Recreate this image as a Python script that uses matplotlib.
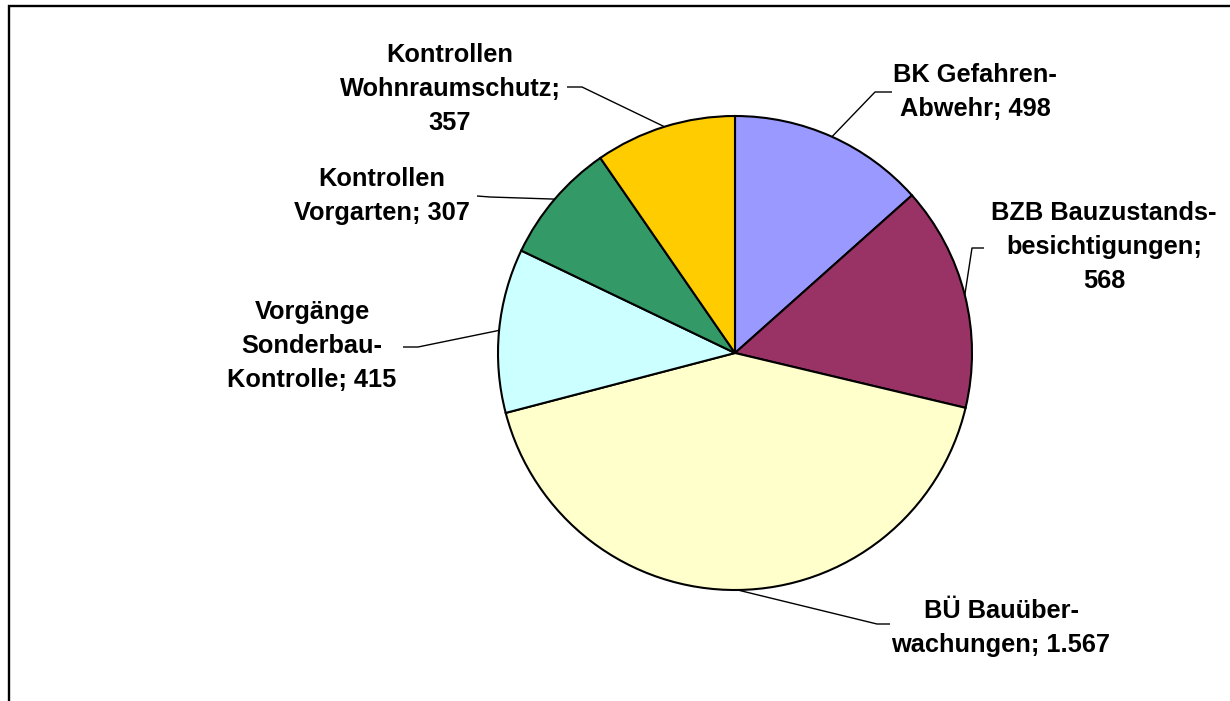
import numpy as np
import matplotlib
matplotlib.use("Agg")
import matplotlib.pyplot as plt

# data (clockwise from 12 o'clock)
labels = ["BK Gefahren-\nAbwehr; 498",
          "BZB Bauzustands-\nbesichtigungen;\n568",
          "BÜ Bauüber-\nwachungen; 1.567",
          "Vorgänge\nSonderbau-\nKontrolle; 415",
          "Kontrollen\nVorgarten; 307",
          "Kontrollen\nWohnraumschutz;\n357"]
values = [498, 568, 1567, 415, 307, 357]
colors = ["#9999FF", "#993366", "#FFFFCC", "#CCFFFF", "#339966", "#FFCC00"]

# layout in pixels (from top-left of the picture)
W, H = 1230, 701
center = (735, 353)
radius = 237
text_pos = [(975, 92), (1104, 247), (1001, 628), (312, 346), (382, 196), (450, 89)]
elbow = [(875, 92), (972, 248), (877, 624), (418, 347), (490, 197), (582, 87)]
line_end = [(892, 92), (984, 248), (890, 624), (403, 347), (477, 196), (567, 87)]

plt.rcParams['font.family'] = ['Liberation Sans', 'DejaVu Sans']

fig = plt.figure(figsize=(W / 100, H / 100), dpi=100)
ax = fig.add_axes([0, 0, 1, 1])

wedges, _ = ax.pie(values, colors=colors, startangle=90, counterclock=False,
                   center=(center[0], H - center[1]), radius=radius,
                   wedgeprops=dict(edgecolor="black", linewidth=1.5))
ax.set_xlim(0, W)
ax.set_ylim(0, H)
ax.set_aspect('equal')
ax.axis('off')

for w, lab, tp, el, le in zip(wedges, labels, text_pos, elbow, line_end):
    mid = np.deg2rad((w.theta1 + w.theta2) / 2)
    x0 = center[0] + radius * np.cos(mid)
    y0 = (H - center[1]) + radius * np.sin(mid)
    ax.plot([x0, el[0], le[0]], [y0, H - el[1], H - le[1]], color="black", lw=1.0,
            solid_capstyle='butt')
    ax.text(tp[0], H - tp[1], lab, ha='center', va='center', fontsize=18.3,
            fontweight='bold', linespacing=1.55, multialignment='center')

# chart frame (only top and left edges are inside the picture)
ax.plot([9, 9, W], [0, H - 6, H - 6], color="black", lw=1.7, solid_joinstyle='miter')

fig.savefig("out.png", dpi=100)
